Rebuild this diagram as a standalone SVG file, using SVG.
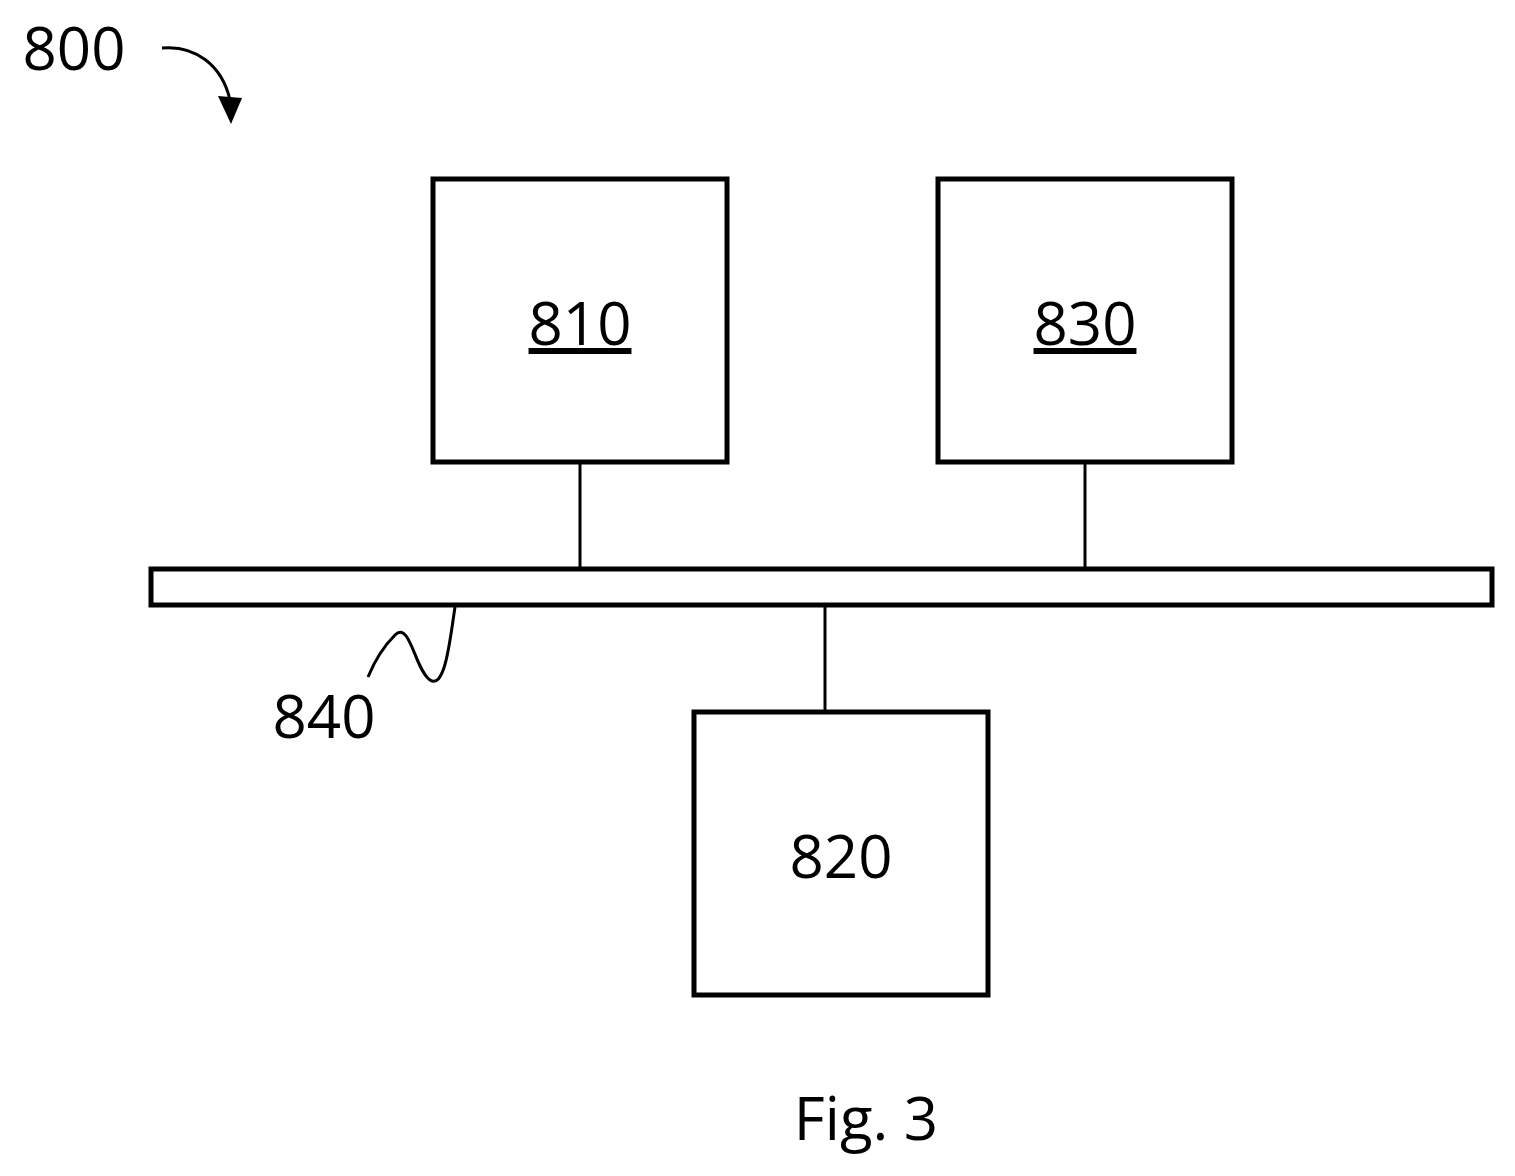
<svg xmlns="http://www.w3.org/2000/svg" width="1515" height="1176" viewBox="0 0 1515 1176">
<style>
.box{fill:#fff;stroke:#000;stroke-width:5}
.ln{stroke:#000;stroke-width:3;fill:none}
text{font-family:"Open Sans","Liberation Sans",sans-serif;font-size:60px;fill:#000}
</style>
<rect width="1515" height="1176" fill="#fff"/>
<g id="connectors">
<line class="ln" x1="580" y1="462" x2="580" y2="569"/>
<line class="ln" x1="1085" y1="462" x2="1085" y2="569"/>
<line class="ln" x1="825" y1="605" x2="825" y2="712"/>
<path class="ln" d="M162,48 C195,45 222,65 230,100" stroke-width="4"/>
<polygon points="218,96 242,98 231,124"/>
<path class="ln" d="M455,607 C450,640 445,690 430,680 C415,670 410,620 395,635 C385,645 375,660 368,677"/>
</g>
<g id="n810"><rect class="box" x="433" y="179" width="294" height="283"/><text x="580" y="345" text-anchor="middle" text-decoration="underline">810</text></g>
<g id="n830"><rect class="box" x="938" y="179" width="294" height="283"/><text x="1085" y="345" text-anchor="middle" text-decoration="underline">830</text></g>
<g id="n820"><rect class="box" x="694" y="712" width="294" height="283"/><text x="841" y="878" text-anchor="middle">820</text></g>
<g id="n840"><rect class="box" x="151" y="569" width="1341" height="36"/><text x="324" y="738" text-anchor="middle">840</text></g>
<g id="labels"><text x="74" y="70" text-anchor="middle">800</text><text x="866" y="1140" text-anchor="middle">Fig. 3</text></g>
</svg>
